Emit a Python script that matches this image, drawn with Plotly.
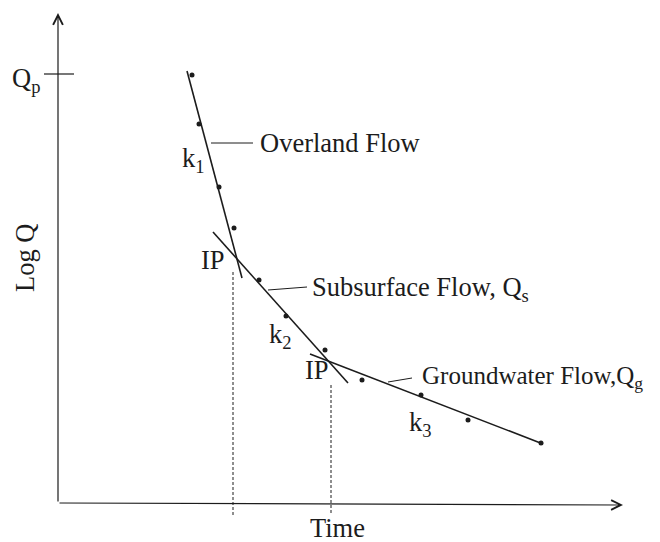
import plotly.graph_objects as go

# observed recession points (time, log Q) in sketch units
t_obs = [13.4, 14.1, 16.1, 17.6, 20.1, 22.8, 26.7, 30.4, 36.3, 41.0, 48.3]
logq_obs = [42.8, 37.9, 31.6, 27.5, 22.3, 18.7, 15.3, 12.3, 10.8, 8.3, 6.0]

# fitted straight segments: overland, subsurface, groundwater
seg_names = ["Overland", "Subsurface", "Groundwater"]
seg_t = [[12.9, 18.4], [15.5, 29.0], [25.2, 48.5]]
seg_q = [[43.2, 22.5], [27.1, 12.0], [14.9, 5.9]]

# inflection points (dashed drops to the time axis)
ip_t = [17.5, 27.3]
ip_q = [23.1, 11.8]

q_peak = 42.9
t_max = 56.5
q_max = 49.0

INK = "#1c1c1c"
FAMILY = "Liberation Serif, Times New Roman, serif"

fig = go.Figure()

# Qp tick on the vertical axis
fig.add_trace(go.Scatter(x=[-1.4, 1.6], y=[q_peak, q_peak], mode="lines",
                         line=dict(color=INK, width=1.2), showlegend=False))

# dashed drops from the inflection points
for t, q in zip(ip_t, ip_q):
    fig.add_trace(go.Scatter(x=[t, t], y=[q, -1.2], mode="lines",
                             line=dict(color=INK, width=1, dash="3px,2px"), showlegend=False))

# recession segments
for name, xs, ys in zip(seg_names, seg_t, seg_q):
    fig.add_trace(go.Scatter(x=xs, y=ys, mode="lines", name=name,
                             line=dict(color=INK, width=1.6), showlegend=False))

# observed points
fig.add_trace(go.Scatter(x=t_obs, y=logq_obs, mode="markers",
                         marker=dict(color=INK, size=5), showlegend=False))

# leader lines for the flow labels
leaders = [([15.3, 19.5], [36.0, 36.0]), ([21.0, 24.9], [21.3, 21.6]), ([33.0, 35.4], [12.1, 12.5])]
for xs, ys in leaders:
    fig.add_trace(go.Scatter(x=xs, y=ys, mode="lines",
                             line=dict(color=INK, width=1), showlegend=False))

# axes drawn as arrows
for tip, tail in [((0, q_max), (0, 0)), ((t_max, -0.2), (0, 0))]:
    fig.add_annotation(x=tip[0], y=tip[1], ax=tail[0], ay=tail[1], xref="x", yref="y",
                       axref="x", ayref="y", text="", showarrow=True, arrowhead=5,
                       arrowsize=1.6, arrowwidth=1.2, arrowcolor=INK)

labels = [
    ("Q<sub>p</sub>", -1.6, 42.3, "right", 0, 26.5),
    ("k<sub>1</sub>", 13.5, 34.3, "center", 0, 26.5),
    ("k<sub>2</sub>", 22.2, 16.7, "center", 0, 26.5),
    ("k<sub>3</sub>", 36.2, 7.9, "center", 0, 26.5),
    ("IP", 15.5, 24.3, "center", 0, 26.5),
    ("IP", 25.9, 13.3, "center", 0, 26.5),
    ("Overland Flow", 20.0, 36.0, "left", 0, 26.5),
    ("Subsurface Flow, Q<sub>s</sub>", 25.2, 21.4, "left", 0, 26.5),
    ("Groundwater Flow,Q<sub>g</sub>", 36.2, 12.6, "left", 0, 25),
    ("Log Q", -3.3, 24.5, "center", -90, 26.5),
    ("Time", 27.9, -2.5, "center", 0, 26.5),
]
for text, x, y, anchor, ang, size in labels:
    fig.add_annotation(x=x, y=y, xref="x", yref="y", text=text, showarrow=False,
                       xanchor=anchor, yanchor="middle", textangle=ang,
                       font=dict(family=FAMILY, size=size, color=INK))

# ranges offset to cancel the 8px page margin
fig.update_xaxes(range=[-5.0, 61.0], visible=False, showgrid=False, zeroline=False)
fig.update_yaxes(range=[-4.7, 49.5], visible=False, showgrid=False, zeroline=False)
fig.update_layout(width=660, height=542, margin=dict(l=0, r=0, t=0, b=0),
                  plot_bgcolor="white", paper_bgcolor="white", showlegend=False)

fig.write_html("out.html")
